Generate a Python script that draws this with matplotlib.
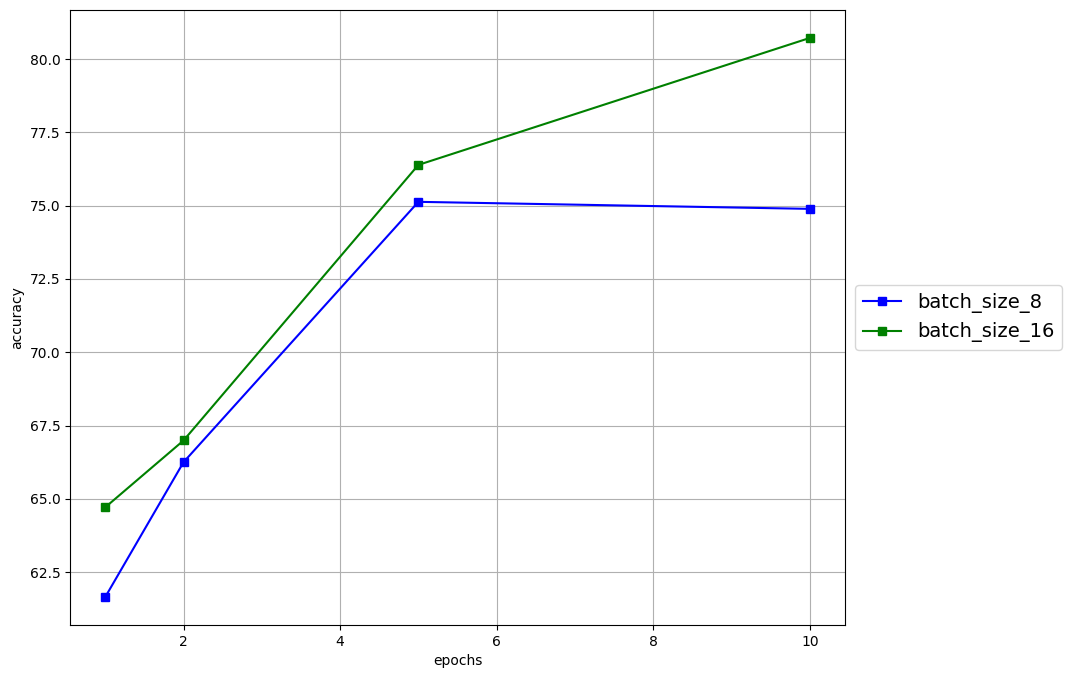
import numpy as np
import matplotlib
matplotlib.use('Agg')
import matplotlib.pyplot as plt

epochs = [1, 2, 5, 10]
acc_bs8 = [61.65, 66.25, 75.13, 74.89]
acc_bs16 = [64.71, 66.99, 76.39, 80.72]

fig = plt.figure(figsize=(10.72, 6.79), dpi=100)
ax = fig.add_axes([0.0653, 0.0795, 0.7230, 0.9058])
ax.plot(epochs, acc_bs8, 's-', color='blue', label='batch_size_8')
ax.plot(epochs, acc_bs16, 's-', color='green', label='batch_size_16')
ax.set_xlabel('epochs')
ax.set_ylabel('accuracy')
ax.grid(True)
ax.legend(loc='center left', bbox_to_anchor=(1, 0.5), fontsize=14)
fig.savefig('out.png', dpi=100)
